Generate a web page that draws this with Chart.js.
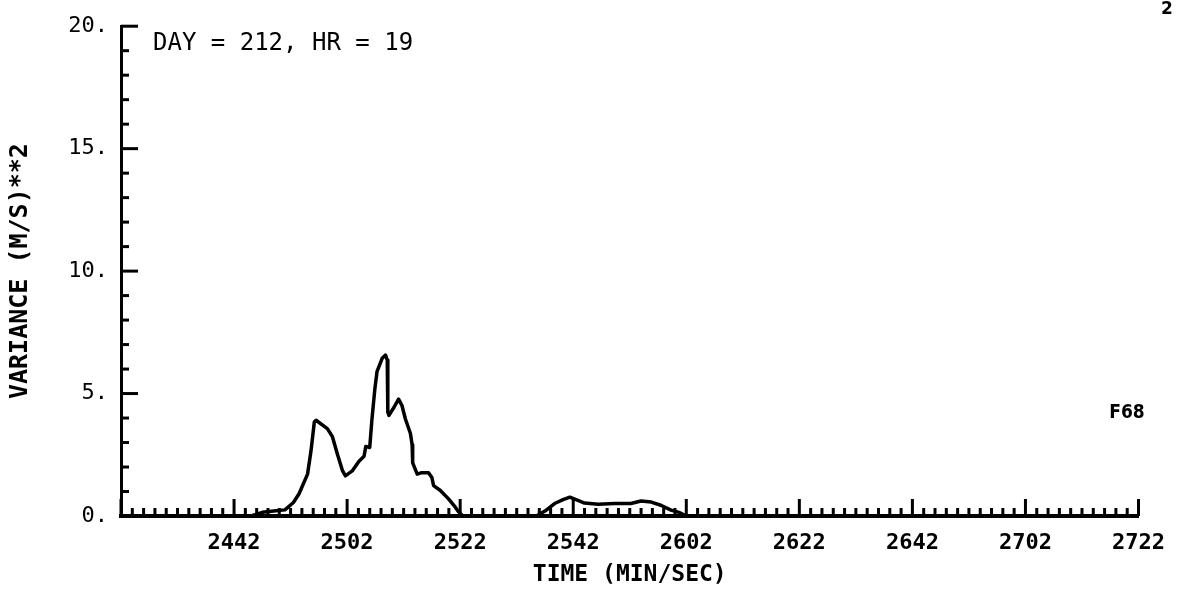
<!DOCTYPE html>
<html>
<head>
<meta charset="utf-8">
<script src="https://cdn.jsdelivr.net/npm/chart.js@4/dist/chart.umd.min.js"></script>
<style>
  html, body { margin: 0; padding: 0; background: #fff; }
  #wrap { width: 1179px; height: 595px; position: relative; }
</style>
</head>
<body>
<div id="wrap"><canvas id="c" width="1179" height="595"></canvas></div>
<script>
// Time in seconds after 24:22 (MIN/SEC), variance in (M/S)**2
const timeSec = [0, 23, 25, 27, 29, 30.5, 31.5, 33.0, 33.6, 34.2, 34.5, 36.5, 37.4, 38.3, 39.2, 39.7,
  40.9, 42.1, 43.0, 43.3, 44.0, 44.4, 44.9, 45.3, 46.2, 46.8, 47.1, 47.2, 47.4, 48.3, 49.1,
  49.7, 50.3, 51.2, 51.5, 51.6, 52.4, 53.2, 54.4, 55.0, 55.3, 56.5, 57.9, 59.1, 59.7, 60.5,
  73.5, 75, 76.7, 78.2, 79.4, 80.5, 82.0, 84.4, 87.3, 90.2, 92.0, 93.8, 95.5, 97.3, 98.7, 100, 180];
const variance = [0, 0, 0.15, 0.2, 0.25, 0.55, 0.91, 1.71, 2.64, 3.84, 3.91, 3.57, 3.24, 2.51, 1.84, 1.64,
  1.84, 2.24, 2.44, 2.84, 2.80, 3.97, 5.17, 5.91, 6.44, 6.57, 6.37, 4.24, 4.11, 4.44, 4.77,
  4.51, 3.97, 3.37, 2.91, 2.17, 1.71, 1.77, 1.77, 1.57, 1.24, 1.04, 0.71, 0.37, 0.17, 0,
  0, 0.2, 0.51, 0.67, 0.77, 0.67, 0.53, 0.48, 0.51, 0.51, 0.61, 0.57, 0.44, 0.24, 0.15, 0, 0];

const xTickSec = [20, 40, 60, 80, 100, 120, 140, 160, 180];
const xTickLabels = ['2442', '2502', '2522', '2542', '2602', '2622', '2642', '2702', '2722'];
const yTickVals = [0, 5, 10, 15, 20];
const yTickLabels = ['0.', '5.', '10.', '15.', '20.'];

const xMin = 0, xMax = 180, xMinorStep = 2, xMajorStep = 20;
const yMin = 0, yMax = 20, yMinorStep = 1, yMajorStep = 5;

const titleText = 'DAY = 212, HR = 19';
const cornerText = '2';
const tagText = 'F68';

const CHART_LEFT = 121, CHART_BOTTOM = 516;

const insideTicks = {
  id: 'insideTicks',
  afterDatasetsDraw(chart) {
    const ctx = chart.ctx;
    const xs = chart.scales.x, ys = chart.scales.y;
    const bottom = chart.chartArea.bottom, left = chart.chartArea.left;
    ctx.save();
    ctx.strokeStyle = '#000';
    ctx.lineWidth = 3;
    ctx.lineCap = 'butt';
    for (let t = xMin; t <= xMax + 1e-9; t += xMinorStep) {
      const px = xs.getPixelForValue(t);
      const len = (Math.round(t) % xMajorStep === 0) ? 17 : 8;
      ctx.beginPath(); ctx.moveTo(px, bottom); ctx.lineTo(px, bottom - len); ctx.stroke();
    }
    for (let v = yMin; v <= yMax + 1e-9; v += yMinorStep) {
      const py = ys.getPixelForValue(v);
      const len = (Math.round(v) % yMajorStep === 0) ? 17 : 8;
      ctx.beginPath(); ctx.moveTo(left, py); ctx.lineTo(left + len, py); ctx.stroke();
    }
    ctx.restore();
  },
  afterDraw(chart) {
    const ctx = chart.ctx;
    const a = chart.chartArea;
    ctx.save();
    ctx.fillStyle = '#000';
    ctx.textBaseline = 'middle';
    ctx.textAlign = 'left';
    ctx.font = '24px "DejaVu Sans Mono"';
    ctx.fillText(titleText, a.left + 32, 44);
    ctx.font = 'bold 17px "DejaVu Sans"';
    ctx.textAlign = 'center';
    ctx.fillText(cornerText, 1167, 10);
    ctx.font = 'bold 19px "DejaVu Sans Condensed", "DejaVu Sans"';
    ctx.fillText(tagText, 1127, 413);
    ctx.restore();
  }
};

const points = timeSec.map((t, i) => ({ x: t, y: variance[i] }));

new Chart(document.getElementById('c'), {
  type: 'line',
  data: {
    datasets: [{
      data: points,
      borderColor: '#000',
      borderWidth: 3.5,
      pointRadius: 0,
      tension: 0,
      fill: false,
      borderJoinStyle: 'round',
      borderCapStyle: 'round'
    }]
  },
  options: {
    responsive: false,
    animation: false,
    layout: { padding: { left: 0, top: 15, right: 36, bottom: 0 } },
    plugins: { legend: { display: false }, tooltip: { enabled: false } },
    scales: {
      x: {
        type: 'linear',
        min: xMin, max: xMax,
        afterFit(s) { s.height = 595 - CHART_BOTTOM; },
        grid: { display: false, drawTicks: false },
        border: { display: true, color: '#000', width: 4 },
        ticks: {
          stepSize: xMajorStep,
          padding: 14,
          autoSkip: false,
          maxRotation: 0,
          color: '#000',
          font: { family: '"DejaVu Sans Mono"', size: 22, weight: 'bold' },
          callback(value) {
            const i = xTickSec.indexOf(value);
            return i >= 0 ? xTickLabels[i] : '';
          }
        },
        title: {
          display: true,
          text: 'TIME (MIN/SEC)',
          color: '#000',
          font: { family: '"DejaVu Sans Mono"', size: 23, weight: 'bold' },
          padding: { top: 0, bottom: 6 }
        }
      },
      y: {
        type: 'linear',
        min: yMin, max: yMax,
        afterFit(s) { s.width = CHART_LEFT; },
        grid: { display: false, drawTicks: false },
        border: { display: true, color: '#000', width: 3 },
        ticks: {
          stepSize: yMajorStep,
          padding: 13,
          color: '#000',
          font: { family: '"DejaVu Sans Mono"', size: 22 },
          callback(value) {
            const i = yTickVals.indexOf(value);
            return i >= 0 ? yTickLabels[i] : '';
          }
        },
        title: {
          display: true,
          text: 'VARIANCE (M/S)**2',
          color: '#000',
          font: { family: '"DejaVu Sans Mono"', size: 25, weight: 'bold' },
          padding: { top: 5, bottom: 0 }
        }
      }
    }
  },
  plugins: [insideTicks]
});
</script>
</body>
</html>
